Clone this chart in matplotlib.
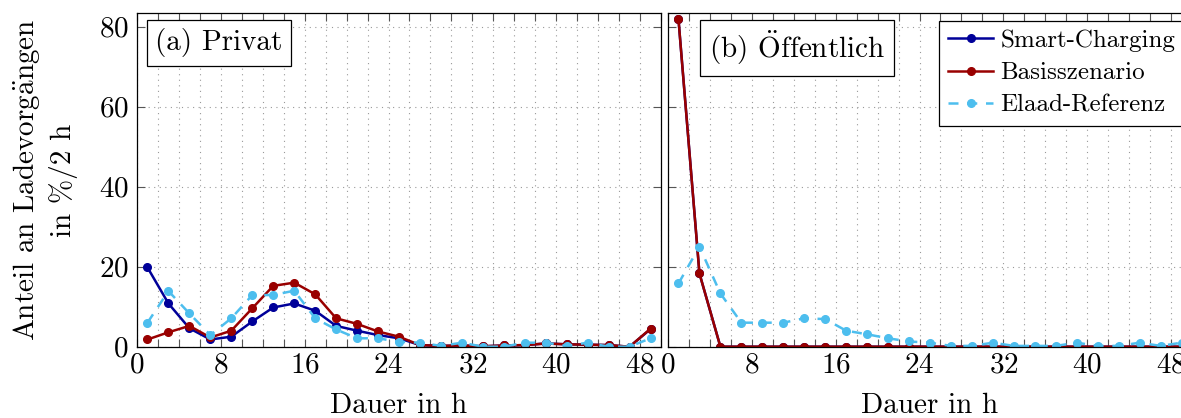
import matplotlib
matplotlib.use('Agg')
import matplotlib.pyplot as plt
from matplotlib.ticker import MultipleLocator
import numpy as np

plt.rcParams['font.family'] = ['cmr10', 'DejaVu Serif']
plt.rcParams['mathtext.fontset'] = 'cm'
plt.rcParams['axes.formatter.use_mathtext'] = True

# Ladedauer in 2h-Klassen (Klassenmitte)
dauer = np.arange(1, 50, 2)

# (a) Privat
privat_smart = [19.8, 10.8, 4.6, 1.8, 2.5, 6.3, 9.8, 10.8, 9.0, 5.2, 4.0, 2.9, 2.1,
                0.4, 0.2, 0.3, 0.1, 0.3, 0.4, 0.8, 0.6, 0.5, 0.4, 0.0, 4.4]
privat_basis = [1.8, 3.6, 5.2, 2.3, 4.0, 9.6, 15.2, 16.0, 13.1, 7.1, 5.7, 3.8, 2.5,
                0.4, 0.2, 0.3, 0.1, 0.3, 0.4, 0.8, 0.6, 0.5, 0.4, 0.0, 4.5]
privat_elaad = [6.0, 13.9, 8.3, 2.9, 7.1, 12.9, 12.9, 14.0, 7.1, 4.3, 2.1, 2.1, 1.2,
                1.0, 0.2, 1.0, 0.0, 0.0, 1.0, 1.0, 0.2, 1.0, 0.0, 0.0, 2.1]

# (b) Öffentlich
oeff_smart = [81.8, 18.3] + [0.0] * 23
oeff_basis = [81.8, 18.3] + [0.0] * 23
oeff_elaad = [15.8, 25.0, 13.3, 6.0, 6.0, 6.0, 7.1, 6.9, 4.0, 3.1, 2.1, 1.3, 1.0,
              0.2, 0.2, 1.0, 0.2, 0.2, 0.2, 1.0, 0.2, 0.2, 1.0, 0.2, 1.0]

c_smart = '#000099'
c_basis = '#990000'
c_elaad = '#4dbeee'

fig = plt.figure(figsize=(11.81, 4.18), dpi=100)
ax1 = fig.add_axes([137/1181, 1 - 346.7/418, 524/1181, 333.4/418])
ax2 = fig.add_axes([668/1181, 1 - 346.7/418, 524/1181, 333.4/418], sharey=ax1)

# Panel, Titel, Titel-x (Achsenanteil), Reihen
panels = [(ax1, '(a) Privat', 0.035, privat_smart, privat_basis, privat_elaad),
          (ax2, '(b) $\\ddot{\\rm O}$ffentlich', 0.078,
           oeff_smart, oeff_basis, oeff_elaad)]

for ax, titel, tx, smart, basis, elaad in panels:
    ax.plot(dauer, smart, color=c_smart, lw=1.8, marker='o', ms=5.5,
            label='Smart-Charging')
    ax.plot(dauer, basis, color=c_basis, lw=1.8, marker='o', ms=5.5,
            label='Basisszenario')
    ax.plot(dauer, elaad, color=c_elaad, lw=1.8, marker='o', ms=5.5,
            dashes=(4, 3.5), label='Elaad-Referenz')

    ax.set_xlim(0, 50)
    ax.set_ylim(0, 83.3)
    ax.xaxis.set_major_locator(MultipleLocator(8))
    ax.xaxis.set_minor_locator(MultipleLocator(2))
    ax.yaxis.set_major_locator(MultipleLocator(20))
    ax.tick_params(which='both', direction='in', top=True, right=True,
                   length=6, width=0.8, color='#555555', labelsize=21)
    ax.tick_params(axis='x', pad=4)
    ax.tick_params(axis='y', pad=6)
    ax.grid(True, which='both', axis='x', color='#999999', lw=0.8,
            linestyle=(0, (1, 4)))
    ax.grid(True, which='major', axis='y', color='#999999', lw=0.8,
            linestyle=(0, (1, 4)))
    ax.set_axisbelow(True)
    for s in ax.spines.values():
        s.set_linewidth(0.9)
    ax.set_xlabel('Dauer in h', fontsize=21, labelpad=10)
    ax.text(tx, 0.955, titel, transform=ax.transAxes, fontsize=21,
            ha='left', va='top',
            bbox=dict(boxstyle='square,pad=0.3', fc='white', ec='black', lw=0.9))

ax1.set_ylabel('Anteil an Ladevorg$\\ddot{\\rm a}$ngen\nin %/2 h', fontsize=21,
               labelpad=15, linespacing=1.3)
ax2.tick_params(axis='y', labelleft=False)

leg = ax2.legend(loc='upper right', fontsize=18, handlelength=1.8,
                 labelspacing=0.4, borderpad=0.35, handletextpad=0.3,
                 borderaxespad=0, fancybox=False, framealpha=1,
                 edgecolor='black', bbox_to_anchor=(0.985, 0.978))
leg.get_frame().set_linewidth(0.9)

fig.savefig('out.png', dpi=100)
